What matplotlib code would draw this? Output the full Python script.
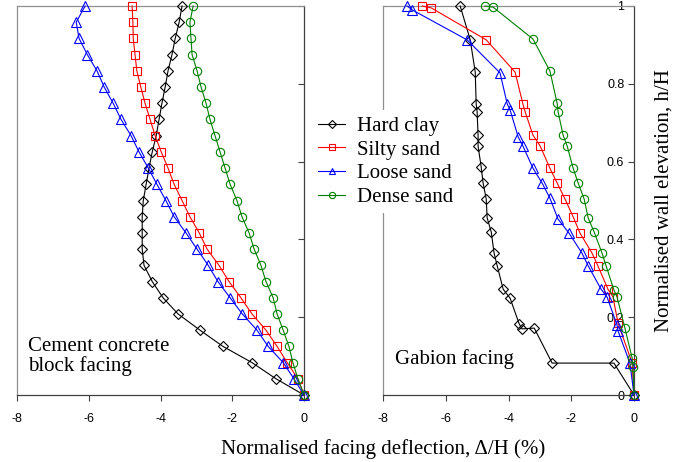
import numpy as np
import matplotlib
matplotlib.use("Agg")
import matplotlib.pyplot as plt
from matplotlib.lines import Line2D

plt.rcParams['axes.unicode_minus'] = False

# ---- Cement concrete block facing (left panel) ----
h_block = [k / 24 for k in range(24, -1, -1)]
block_hard_clay = [-3.40, -3.48, -3.59, -3.68, -3.79, -3.87, -3.96, -4.04, -4.12, -4.23,
                   -4.32, -4.40, -4.48, -4.51, -4.51, -4.51, -4.46, -4.23, -3.93, -3.51,
                   -2.90, -2.26, -1.45, -0.78, 0.0]
block_silty_sand = [-4.79, -4.77, -4.76, -4.71, -4.66, -4.55, -4.43, -4.29, -4.15, -3.98,
                    -3.79, -3.62, -3.40, -3.18, -2.92, -2.70, -2.37, -2.09, -1.76, -1.45,
                    -1.06, -0.75, -0.47, -0.17, 0.0]
block_loose_sand = [-6.10, -6.35, -6.27, -6.04, -5.77, -5.57, -5.32, -5.10, -4.82, -4.60,
                    -4.34, -4.10, -3.85, -3.62, -3.29, -2.98, -2.67, -2.40, -2.06, -1.72,
                    -1.31, -1.00, -0.58, -0.28, 0.0]
block_dense_sand = [-3.09, -3.18, -3.15, -3.12, -2.98, -2.87, -2.73, -2.62, -2.48, -2.34,
                    -2.20, -2.06, -1.87, -1.73, -1.53, -1.39, -1.20, -1.06, -0.86, -0.75,
                    -0.58, -0.42, -0.31, -0.17, 0.0]

# ---- Gabion facing (right panel) ----
gab_hard_clay_h = [1.0, 0.913, 0.83, 0.748, 0.728, 0.668, 0.64, 0.586, 0.545, 0.504,
                   0.455, 0.419, 0.365, 0.332, 0.272, 0.249, 0.183, 0.17, 0.172, 0.082,
                   0.082, 0.0]
gab_hard_clay_d = [-5.54, -5.22, -5.06, -5.03, -5.00, -4.97, -4.97, -4.87, -4.81, -4.71,
                   -4.68, -4.55, -4.46, -4.36, -4.17, -3.95, -3.66, -3.57, -3.18, -2.61,
                   -0.64, 0.0]
gab_silty_sand_h = [1.0, 0.995, 0.913, 0.83, 0.748, 0.728, 0.668, 0.64, 0.583, 0.545,
                    0.504, 0.458, 0.416, 0.365, 0.332, 0.272, 0.252, 0.185, 0.082, 0.0]
gab_silty_sand_d = [-6.75, -6.46, -4.71, -3.79, -3.54, -3.47, -3.22, -2.99, -2.68, -2.45,
                    -2.20, -1.94, -1.72, -1.34, -1.15, -0.83, -0.67, -0.51, -0.06, 0.0]
gab_loose_sand_h = [1.0, 0.99, 0.913, 0.828, 0.748, 0.733, 0.663, 0.64, 0.583, 0.545,
                    0.506, 0.452, 0.416, 0.365, 0.332, 0.272, 0.252, 0.18, 0.165, 0.082, 0.0]
gab_loose_sand_d = [-7.23, -7.07, -5.32, -4.27, -4.04, -3.95, -3.69, -3.54, -3.22, -2.93,
                    -2.68, -2.42, -2.07, -1.66, -1.46, -1.05, -0.86, -0.54, -0.51, -0.13, 0.0]
gab_dense_sand_h = [1.0, 0.997, 0.915, 0.833, 0.75, 0.728, 0.668, 0.64, 0.583, 0.545,
                    0.504, 0.455, 0.419, 0.365, 0.332, 0.27, 0.252, 0.172, 0.095, 0.072, 0.0]
gab_dense_sand_d = [-4.75, -4.49, -3.22, -2.68, -2.45, -2.42, -2.26, -2.13, -1.94, -1.78,
                    -1.59, -1.46, -1.27, -1.02, -0.89, -0.64, -0.54, -0.29, -0.06, -0.03, 0.0]

soil_names = ["Hard clay", "Silty sand", "Loose sand", "Dense sand"]
colors = ["black", "#ff0000", "#0000ff", "#008000"]
markers = ["D", "s", "^", "o"]
msizes = [5.0, 5.5, 6.5, 6.0]

x_ticks = [-8, -6, -4, -2, 0]
y_ticks = [0, 0.2, 0.4, 0.6, 0.8, 1.0]
y_ticklabels = ["0", "0.2", "0.4", "0.6", "0.8", "1"]

serif = ["Liberation Serif", "DejaVu Serif"]
sans = ["Liberation Sans", "DejaVu Sans"]
TXT = 15

fig = plt.figure(figsize=(6.81, 4.62), dpi=100)
ax1 = fig.add_axes([17 / 681, 1 - 395 / 462, (304 - 17) / 681, (395 - 6) / 462])
ax2 = fig.add_axes([383 / 681, 1 - 395 / 462, (634 - 383) / 681, (395 - 6) / 462])


def style_axes(ax):
    ax.set_xlim(-8, 0)
    ax.set_ylim(0, 1)
    for side in ["top", "left"]:
        ax.spines[side].set_color("#909090")
        ax.spines[side].set_linewidth(0.9)
    for side in ["bottom", "right"]:
        ax.spines[side].set_color("#404040")
        ax.spines[side].set_linewidth(0.9)
    ax.set_xticks(x_ticks)
    ax.set_xticklabels([str(t) for t in x_ticks], family=sans, fontsize=9)
    ax.tick_params(axis="x", direction="out", length=4, width=0.8, pad=9, color="#404040")
    ax.yaxis.tick_right()
    ax.set_yticks(y_ticks)
    ax.tick_params(axis="y", direction="in", length=4, width=0.8, color="#404040")


style_axes(ax1)
style_axes(ax2)
ax1.tick_params(axis="y", labelright=False)
ax2.set_yticklabels(y_ticklabels, family=sans, fontsize=9)
ax2.tick_params(axis="y", labelright=True, pad=-7)
for lbl in ax2.get_yticklabels():
    lbl.set_horizontalalignment("right")

block_series = [block_hard_clay, block_silty_sand, block_loose_sand, block_dense_sand]
for d, c, m, ms in zip(block_series, colors, markers, msizes):
    ax1.plot(d, h_block, color=c, lw=0.8, marker=m, ms=ms, mfc="none", mec=c,
             mew=0.8, clip_on=False, zorder=3)

gab_series = [(gab_hard_clay_d, gab_hard_clay_h), (gab_silty_sand_d, gab_silty_sand_h),
              (gab_loose_sand_d, gab_loose_sand_h), (gab_dense_sand_d, gab_dense_sand_h)]
for (d, h), c, m, ms in zip(gab_series, colors, markers, msizes):
    ax2.plot(d, h, color=c, lw=0.8, marker=m, ms=ms, mfc="none", mec=c,
             mew=0.8, clip_on=False, zorder=3)

ax1.text(-7.69, 0.10, "Cement concrete\nblock facing", family=serif, fontsize=TXT,
         ha="left", va="center", linespacing=1.0)
ax2.text(-7.61, 0.093, "Gabion facing", family=serif, fontsize=TXT,
         ha="left", va="center")

ax2.yaxis.set_label_position("right")
ax2.set_ylabel("Normalised wall elevation, h/H", family=serif, fontsize=TXT,
               labelpad=15)

fig.text(383 / 681, 1 - 449 / 462, "Normalised facing deflection, \u0394/H (%)",
         family=serif, fontsize=TXT, ha="center", va="center")

handles = [Line2D([], [], color=c, lw=0.8, marker=m, ms=4.5, mfc="none", mec=c, mew=0.8)
           for c, m in zip(colors, markers)]
leg = fig.legend(handles, soil_names, loc="upper left",
                 bbox_to_anchor=(312 / 681, 1 - 110 / 462),
                 prop={"family": serif, "size": TXT}, frameon=True,
                 handlelength=1.3, handletextpad=0.58, labelspacing=0.2,
                 borderpad=0.3, borderaxespad=0)
leg.get_frame().set_facecolor("white")
leg.get_frame().set_edgecolor("none")
leg.get_frame().set_alpha(1)

fig.savefig("out.png", dpi=100)
